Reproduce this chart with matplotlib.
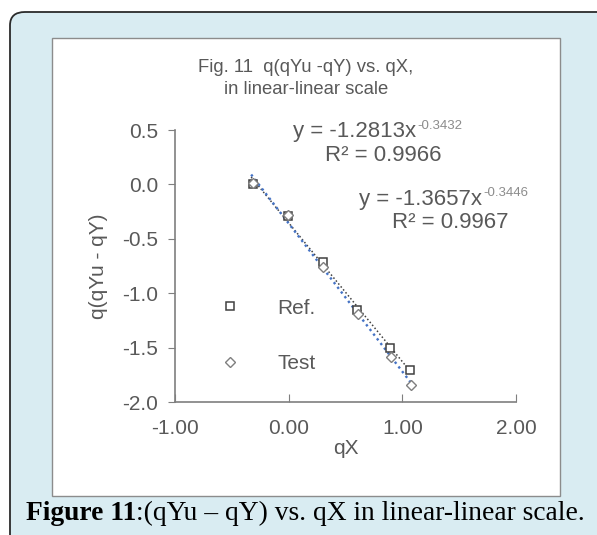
import numpy as np
import matplotlib.pyplot as plt
from matplotlib.patches import FancyBboxPatch, Rectangle

plt.rcParams['font.family'] = ['Liberation Sans', 'DejaVu Sans']

# data
ref_x = [-0.31, -0.01, 0.30, 0.60, 0.89, 1.07]
ref_y = [0.00, -0.29, -0.71, -1.15, -1.50, -1.71]
test_x = [-0.31, -0.01, 0.30, 0.61, 0.90, 1.08]
test_y = [0.01, -0.28, -0.76, -1.19, -1.59, -1.84]

x_ticks = [-1.0, 0.0, 1.0, 2.0]
y_ticks = [0.5, 0.0, -0.5, -1.0, -1.5, -2.0]

W, H = 597, 535
GREY = '#595959'
FS = 15
fig = plt.figure(figsize=(W / 100, H / 100), dpi=100)


def px(x, y):
    # pixel (from top-left) -> figure fraction
    return x / W, 1 - y / H


# outer light blue panel with rounded corner
panel = FancyBboxPatch(px(10, 560), 640 / W, 548 / H,
                       boxstyle='round,pad=0,rounding_size=0.025',
                       transform=fig.transFigure, facecolor='#d9ecf2',
                       edgecolor='#2b2b2b', linewidth=1.3, zorder=0)
fig.patches.append(panel)

# white chart area
x0, y0 = px(52, 496)
inner = Rectangle((x0, y0), (560 - 52) / W, (496 - 38) / H,
                  transform=fig.transFigure, facecolor='white',
                  edgecolor='#8c8c8c', linewidth=1.0, zorder=1)
fig.patches.append(inner)

l, b = px(175, 402)
r, t = px(516, 130)
ax = fig.add_axes([l, b, r - l, t - b])
ax.set_zorder(5)
ax.patch.set_alpha(0)

# trendlines (linear fits of each series)
for xs, ys, col, lw in [(ref_x, ref_y, '#404040', 1.1), (test_x, test_y, '#4472c4', 1.7)]:
    k, c = np.polyfit(xs, ys, 1)
    xx = np.array([min(xs) - 0.02, max(xs)])
    ax.plot(xx, k * xx + c, linestyle=(0, (1, 1.5)), color=col,
            linewidth=lw, zorder=2)

ax.plot(ref_x, ref_y, linestyle='none', marker='s', markersize=5.3,
        markerfacecolor='white', markeredgecolor='#404040',
        markeredgewidth=1.1, zorder=3, label='Ref.')
ax.plot(test_x, test_y, linestyle='none', marker='D', markersize=4.8,
        markerfacecolor='white', markeredgecolor='#7f7f7f',
        markeredgewidth=1.0, zorder=3, label='Test')

ax.set_xlim(-1, 2)
ax.set_ylim(-2, 0.5)
ax.set_xticks(x_ticks)
ax.set_xticklabels(['%.2f' % v for v in x_ticks])
ax.set_yticks(y_ticks)
ax.set_yticklabels(['%.1f' % v for v in y_ticks])
for s in ['top', 'right']:
    ax.spines[s].set_visible(False)
for s in ['left', 'bottom']:
    ax.spines[s].set_color('#7f7f7f')
    ax.spines[s].set_linewidth(1.2)
ax.tick_params(axis='x', direction='in', length=6, color='#7f7f7f',
               labelsize=FS, labelcolor=GREY, pad=12)
ax.tick_params(axis='y', direction='out', length=5, color='#7f7f7f',
               labelsize=FS, labelcolor=GREY, pad=7)

ax.set_xlabel('qX', fontsize=FS, color=GREY, labelpad=1)
ax.set_ylabel('q(qYu - qY)', fontsize=FS, color=GREY, labelpad=10)

fig.text(*px(306, 68), 'Fig. 11  q(qYu -qY) vs. qX,', ha='center', va='center',
         fontsize=13.3, color=GREY)
fig.text(*px(306, 90), 'in linear-linear scale', ha='center', va='center',
         fontsize=13.3, color=GREY)

fig.canvas.draw()
renderer = fig.canvas.get_renderer()


def equation(x, y, main, sup):
    # main text plus a small raised exponent, Excel style
    tx = fig.text(*px(x, y), main, ha='left', va='center', fontsize=16, color=GREY)
    bb = tx.get_window_extent(renderer)
    fig.text((bb.x1 + 1) / W, 1 - (y - 6) / H, sup, ha='left', va='center',
             fontsize=9.5, color='#8c8c8c')


equation(293, 132, 'y = -1.2813x', '-0.3432')
fig.text(*px(383, 156), 'R² = 0.9966', ha='center', va='center',
         fontsize=16, color=GREY)
equation(359, 199, 'y = -1.3657x', '-0.3446')
fig.text(*px(450, 223), 'R² = 0.9967', ha='center', va='center',
         fontsize=16, color=GREY)

leg = ax.legend(loc='upper left', bbox_to_anchor=px(199, 280),
                bbox_transform=fig.transFigure, frameon=False,
                labelspacing=1.74, handletextpad=1.67, handlelength=1.2,
                fontsize=FS, labelcolor=GREY)

# caption
cap_font = ['Liberation Serif', 'DejaVu Serif']
cap1 = fig.text(*px(26, 513), 'Figure 11', ha='left', va='center',
                fontsize=19.8, fontweight='bold', color='black', family=cap_font)
bb = cap1.get_window_extent(renderer)
fig.text(bb.x1 / W, 1 - 513 / H, ':(qYu \u2013 qY) vs. qX in linear-linear scale.',
         ha='left', va='center', fontsize=19.8, color='black', family=cap_font)

fig.savefig('out.png', dpi=100)
